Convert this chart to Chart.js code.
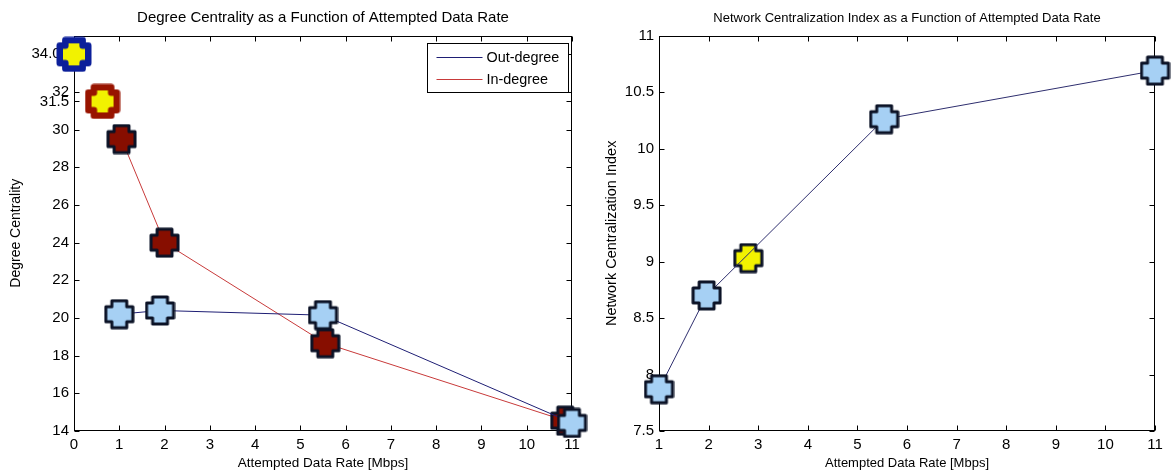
<!DOCTYPE html>
<html>
<head>
<meta charset="utf-8">
<script src="https://cdn.jsdelivr.net/npm/chart.js@4.4.0/dist/chart.umd.min.js"></script>
<style>
  html, body { margin: 0; padding: 0; background: #fff; }
  #left { position: absolute; left: 0; top: 0; width: 590px; height: 474px; }
  #right { position: absolute; left: 590px; top: 0; width: 581px; height: 474px; }
</style>
</head>
<body>
<div id="left"><canvas id="degreeChart"></canvas></div>
<div id="right"><canvas id="nciChart"></canvas></div>
<script>
// ── data: degree centrality (left) ──
const outRates = [1, 1.9, 5.5, 11];
const outDegree = [20.2, 20.4, 20.15, 14.43];
const inRates = [1.05, 2, 5.55, 10.85];
const inDegree = [29.5, 24.0, 18.66, 14.55];
const peakRates = [0, 0.63];
const peakValues = [34.0, 31.5];
const degreeXTicks = [0, 1, 2, 3, 4, 5, 6, 7, 8, 9, 10, 11];
const degreeYTicks = [14, 16, 18, 20, 22, 24, 26, 28, 30, 31.5, 32, 34];

// ── data: network centralization index (right) ──
const nciRates = [1, 1.96, 5.54, 11];
const nciValues = [7.87, 8.7, 10.26, 10.69];
const nciMarkRates = [2.8];
const nciMarkValues = [9.03];
const nciXTicks = [1, 2, 3, 4, 5, 6, 7, 8, 9, 10, 11];
const nciYTicks = [7.5, 8, 8.5, 9, 9.5, 10, 10.5, 11];

const FONT = "'Liberation Sans', Arial, sans-serif";
const COLORS = {
  outLine: '#1e1e74',
  inLine: '#c83a3a',
  nciLine: '#2e2e6e',
  lightBlue: '#a6d0f4',
  darkRed: '#870e00',
  edge: '#0b1226',
  yellow: '#f2f200',
  peakBlue: '#0c1f9a',
  peakRed: '#981400',
};

// thick filled plus marker, like matlab's
function plusMarker(size, fill, edge, edgeWidth) {
  const c = document.createElement('canvas');
  c.width = c.height = size;
  const g = c.getContext('2d');
  const m = size / 2;
  const a = size * 0.24;
  const L = m - edgeWidth / 2 - 0.5;
  g.beginPath();
  g.moveTo(m - a, m - L); g.lineTo(m + a, m - L); g.lineTo(m + a, m - a); g.lineTo(m + L, m - a);
  g.lineTo(m + L, m + a); g.lineTo(m + a, m + a); g.lineTo(m + a, m + L); g.lineTo(m - a, m + L);
  g.lineTo(m - a, m + a); g.lineTo(m - L, m + a); g.lineTo(m - L, m - a); g.lineTo(m - a, m - a);
  g.closePath();
  g.fillStyle = fill;
  g.fill();
  g.lineJoin = 'round';
  g.lineWidth = edgeWidth;
  g.strokeStyle = edge;
  g.stroke();
  return c;
}

const blueMark = plusMarker(31, COLORS.lightBlue, COLORS.edge, 3);
const redMark = plusMarker(31, COLORS.darkRed, COLORS.edge, 3);
const yellowMark = plusMarker(31, COLORS.yellow, COLORS.edge, 3);
const peakBlueMark = plusMarker(36, COLORS.yellow, COLORS.peakBlue, 6.5);
const peakRedMark = plusMarker(36, COLORS.yellow, COLORS.peakRed, 6.5);

const toPoints = (xs, ys) => xs.map((x, i) => ({ x, y: ys[i] }));

// box round the plot with ticks pointing inward
const matlabAxes = {
  id: 'matlabAxes',
  beforeDatasetsDraw(chart) {
    const { ctx, chartArea: a, scales: { x, y } } = chart;
    const L = Math.round(a.left) + 0.5, R = Math.round(a.right) - 0.5;
    const T = Math.round(a.top) + 0.5, B = Math.round(a.bottom) - 0.5;
    ctx.save();
    ctx.strokeStyle = '#000';
    ctx.lineWidth = 1;
    ctx.beginPath();
    x.ticks.forEach((t) => {
      const px = Math.round(x.getPixelForValue(t.value)) + 0.5;
      ctx.moveTo(px, B); ctx.lineTo(px, B - 5);
      ctx.moveTo(px, T); ctx.lineTo(px, T + 5);
    });
    y.ticks.forEach((t) => {
      const py = Math.round(y.getPixelForValue(t.value)) + 0.5;
      ctx.moveTo(L, py); ctx.lineTo(L + 5, py);
      ctx.moveTo(R, py); ctx.lineTo(R - 5, py);
    });
    ctx.stroke();
    ctx.strokeRect(L, T, R - L, B - T);
    ctx.restore();
  },
};

// legend box inside the top-right corner
const boxLegend = {
  id: 'boxLegend',
  afterDraw(chart) {
    const { ctx, chartArea: a } = chart;
    const items = chart.data.datasets.filter((d) => d.inLegend);
    const w = 141, h = 49;
    const bx = Math.round(a.right) - 4 - w + 0.5, by = Math.round(a.top) + 7 + 0.5;
    ctx.save();
    ctx.fillStyle = '#fff';
    ctx.fillRect(bx, by, w, h);
    ctx.strokeStyle = '#000';
    ctx.lineWidth = 1;
    ctx.strokeRect(bx, by, w, h);
    ctx.font = `14.4px ${FONT}`;
    ctx.textBaseline = 'middle';
    items.forEach((d, i) => {
      const ry = by + 14 + i * 22;
      ctx.strokeStyle = d.borderColor;
      ctx.beginPath();
      ctx.moveTo(bx + 9, ry); ctx.lineTo(bx + 55, ry);
      ctx.stroke();
      ctx.fillStyle = '#000';
      ctx.fillText(d.label, bx + 59, ry + 1);
    });
    ctx.restore();
  },
};

function axisOpts(min, max, tickValues, fmt, titleText, isX, fitSize, titleSize, titlePad) {
  return {
    type: 'linear',
    min, max,
    afterBuildTicks: (s) => { s.ticks = tickValues.map((v) => ({ value: v })); },
    afterFit: (s) => { if (isX) s.height = fitSize; else s.width = fitSize; },
    grid: { display: false, drawTicks: false },
    border: { display: false },
    ticks: {
      color: '#000',
      font: { family: FONT, size: 15 },
      padding: 5,
      autoSkip: false,
      maxRotation: 0,
      callback: fmt,
    },
    title: {
      display: true,
      text: titleText,
      color: '#000',
      font: { family: FONT, size: titleSize },
      padding: isX ? { top: 0, bottom: titlePad } : { top: titlePad, bottom: 0 },
    },
  };
}

function titleOpts(text, size, top, bottom) {
  return {
    display: true,
    fullSize: false,
    text,
    color: '#000',
    font: { family: FONT, size, weight: 'normal' },
    padding: { top, bottom },
  };
}

new Chart(document.getElementById('degreeChart'), {
  type: 'line',
  data: {
    datasets: [
      {
        label: 'Out-degree',
        inLegend: true,
        data: toPoints(outRates, outDegree),
        borderColor: COLORS.outLine,
        borderWidth: 1,
        pointStyle: blueMark,
        pointRadius: 15,
        clip: false,
      },
      {
        label: 'In-degree',
        inLegend: true,
        data: toPoints(inRates, inDegree),
        borderColor: COLORS.inLine,
        borderWidth: 1,
        pointStyle: redMark,
        pointRadius: 15,
        clip: false,
      },
      {
        label: 'Peak',
        data: toPoints(peakRates, peakValues),
        showLine: false,
        pointStyle: [peakBlueMark, peakRedMark],
        pointRadius: 17,
        clip: false,
      },
    ],
  },
  options: {
    animation: false,
    responsive: true,
    maintainAspectRatio: false,
    layout: { padding: { right: 18, left: 0, top: 0, bottom: 0 } },
    plugins: {
      legend: { display: false },
      tooltip: { enabled: false },
      title: titleOpts('Degree Centrality as a Function of Attempted Data Rate', 15, 9, 8.5),
    },
    scales: {
      x: axisOpts(0, 11, degreeXTicks, (v) => v, 'Attempted Data Rate [Mbps]', true, 43, 13.5, 3),
      y: axisOpts(14, 35, degreeYTicks, (v) => (v === 34 ? '34.0  ' : v), 'Degree Centrality', false, 74, 14, 7.6),
    },
  },
  plugins: [matlabAxes, boxLegend],
});

new Chart(document.getElementById('nciChart'), {
  type: 'line',
  data: {
    datasets: [
      {
        label: 'Network Centralization Index',
        data: toPoints(nciRates, nciValues),
        borderColor: COLORS.nciLine,
        borderWidth: 1,
        pointStyle: blueMark,
        pointRadius: 15,
        clip: false,
      },
      {
        label: 'Marked rate',
        data: toPoints(nciMarkRates, nciMarkValues),
        showLine: false,
        pointStyle: yellowMark,
        pointRadius: 15,
        clip: false,
      },
    ],
  },
  options: {
    animation: false,
    responsive: true,
    maintainAspectRatio: false,
    layout: { padding: { right: 10, left: 0, top: 0, bottom: 0 } },
    plugins: {
      legend: { display: false },
      tooltip: { enabled: false },
      title: titleOpts('Network Centralization Index as a Function of Attempted Data Rate', 13, 10.2, 9.8),
    },
    scales: {
      x: axisOpts(1, 11, nciXTicks, (v) => v, 'Attempted Data Rate [Mbps]', true, 43, 13, 3),
      y: axisOpts(7.5, 11, nciYTicks, (v) => v, 'Network Centralization Index', false, 69, 14.5, 13.3),
    },
  },
  plugins: [matlabAxes],
});
</script>
</body>
</html>
